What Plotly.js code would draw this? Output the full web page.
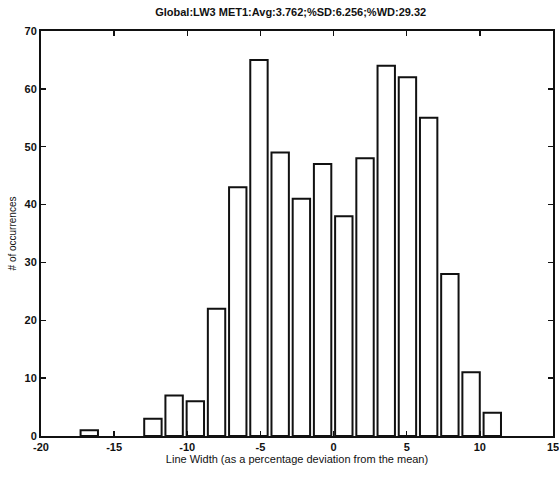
<!DOCTYPE html>
<html>
<head>
<meta charset="utf-8">
<script src="https://cdn.plot.ly/plotly-3.0.1.min.js"></script>
<style>html,body{margin:0;padding:0;background:#fff;}#chart{width:559px;height:483px;}</style>
</head>
<body>
<div id="chart"></div>
<script>
// Bin centres (% deviation from the mean) and counts (empty bins omitted)
var binCenters = [-16.70, -12.35, -10.90, -9.45, -8.00, -6.55, -5.10, -3.65,
                  -2.20, -0.75, 0.70, 2.15, 3.60, 5.05, 6.50, 7.95, 9.40, 10.85];
var counts = [1, 3, 7, 6, 22, 43, 65, 49,
              41, 47, 38, 48, 64, 62, 55, 28, 11, 4];
var binWidth = 1.45;
var xTickVals = [-20, -15, -10, -5, 0, 5, 10, 15];
var xTickText = ["-20", "-15", "-10", "-5", "0", "5", "10", "15"];
var yTickVals = [0, 10, 20, 30, 40, 50, 60, 70];
var yTickText = ["0", "10", "20", "30", "40", "50", "60", "70"];
var titleText = "Global:LW3 MET1:Avg:3.762;%SD:6.256;%WD:29.32";
var xTitle = "Line Width (as a percentage deviation from the mean)";
var yTitle = "# of occurrences";

var font = "Liberation Sans, Arial, sans-serif";

var trace = {
  type: "bar",
  x: binCenters,
  y: counts,
  width: binWidth * 0.82,
  marker: {color: "rgba(255,255,255,0)", line: {color: "#111", width: 2}},
  hoverinfo: "x+y"
};

var axisCommon = {
  showline: true, linecolor: "#111", linewidth: 2, mirror: "ticks",
  ticks: "inside", ticklen: 5, tickwidth: 1.5, tickcolor: "#111",
  showgrid: false, zeroline: false, ticklabeloverflow: "allow",
  tickfont: {family: font, size: 11, color: "#111", weight: "bold"}
};

var layout = {
  width: 559, height: 483,
  margin: {l: 41, r: 6, t: 31, b: 47},
  paper_bgcolor: "#fff", plot_bgcolor: "#fff",
  showlegend: false,
  title: {text: titleText, x: 0.52, xanchor: "center", y: 0.975, yanchor: "middle",
          font: {family: font, size: 11, color: "#111", weight: "bold"}},
  xaxis: Object.assign({}, axisCommon, {
    range: [-20, 15], tickmode: "array", tickvals: xTickVals, ticktext: xTickText,
    title: {text: xTitle, standoff: 2, font: {family: font, size: 11, color: "#111"}}
  }),
  yaxis: Object.assign({}, axisCommon, {
    range: [0, 70], tickmode: "array", tickvals: yTickVals, ticktext: yTickText,
    title: {text: yTitle, standoff: 6, font: {family: font, size: 10, color: "#111"}}
  })
};

Plotly.newPlot("chart", [trace], layout, {displayModeBar: false, staticPlot: true});
</script>
</body>
</html>
